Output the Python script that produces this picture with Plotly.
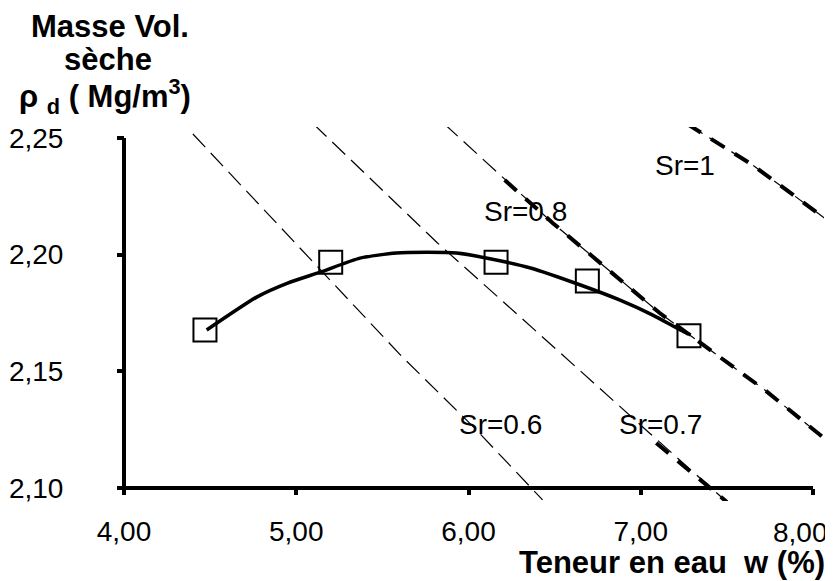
import plotly.graph_objects as go

# ---- data ----
w_obs = [4.47, 5.20, 6.16, 6.69, 7.28]
rho_obs = [2.1677, 2.1968, 2.1968, 2.1887, 2.1653]

w_fit = [4.48, 4.77, 4.95, 5.14, 5.37, 5.58, 5.76, 5.93, 6.11, 6.36, 6.65, 6.88, 7.07, 7.23, 7.29]
rho_fit = [2.1677, 2.1818, 2.1878, 2.1925, 2.1985, 2.2007, 2.2010, 2.2007, 2.1985, 2.1943,
           2.1870, 2.1805, 2.1741, 2.1677, 2.1656]

# saturation lines (thin dashed, full length)
w_sr06 = [4.40, 5.06, 5.61, 6.03, 6.43]
rho_sr06 = [2.2517, 2.1998, 2.1566, 2.1261, 2.0949]
w_sr07 = [5.10, 5.82, 6.32, 6.61, 7.05, 7.50]
rho_sr07 = [2.2560, 2.2050, 2.1720, 2.1527, 2.1236, 2.0940]
w_sr08 = [5.86, 6.49, 7.11, 7.72, 8.07]
rho_sr08 = [2.2560, 2.2135, 2.1750, 2.1420, 2.1210]
w_sr10 = [7.27, 7.65, 8.07]
rho_sr10 = [2.2560, 2.2384, 2.2155]

# thick dashed parts
w_sr07_thick = [7.09, 7.50]
rho_sr07_thick = [2.1193, 2.0940]
w_sr08_thick = [6.21, 6.49, 7.11, 7.72, 8.07]
rho_sr08_thick = [2.2320, 2.2135, 2.1750, 2.1420, 2.1210]
w_sr10_thick = [7.27, 7.65, 8.07]
rho_sr10_thick = [2.2560, 2.2384, 2.2155]

sr_labels = ["Sr=0.6", "Sr=0.7", "Sr=0.8", "Sr=1"]
sr_label_w = [6.183, 7.112, 6.328, 7.257]
sr_label_rho = [2.1274, 2.1274, 2.2183, 2.2384]

x_ticks = [4, 5, 6, 7, 8]
x_ticktext = ["4,00", "5,00", "6,00", "7,00", ""]
last_x_label = "8,00"
y_ticks = [2.10, 2.15, 2.20, 2.25]

# ---- layout geometry (page body has an 8px margin) ----
OFF = 8
W, H = 833 - OFF, 581 - OFF
L, R, T, B = 102, 9, 119, 80
X0, X1 = 3.91872, 8.06386
Y0, Y1 = 2.09443, 2.25471
PW, PH = W - L - R, H - T - B


def px(xpage):
    return (xpage - OFF - L) / PW


def py(ypage):
    return (H - B - (ypage - OFF)) / PH


FONT = "Liberation Sans, Arial, sans-serif"

fig = go.Figure()

thin = dict(color="black", width=1.2, dash="18px,8px")
thick = dict(color="black", width=4, dash="16px,12px")

for wx, ry in [(w_sr06, rho_sr06), (w_sr07, rho_sr07), (w_sr08, rho_sr08), (w_sr10, rho_sr10)]:
    fig.add_trace(go.Scatter(x=wx, y=ry, mode="lines", line=thin, hoverinfo="skip"))
for wx, ry in [(w_sr07_thick, rho_sr07_thick), (w_sr08_thick, rho_sr08_thick), (w_sr10_thick, rho_sr10_thick)]:
    fig.add_trace(go.Scatter(x=wx, y=ry, mode="lines", line=thick, hoverinfo="skip"))

fig.add_trace(go.Scatter(x=w_fit, y=rho_fit, mode="lines",
                         line=dict(color="black", width=3.5, shape="spline", smoothing=0.6)))
fig.add_trace(go.Scatter(x=w_obs, y=rho_obs, mode="markers",
                         marker=dict(symbol="square-open", size=23, color="black",
                                     line=dict(color="black", width=2))))

for t, xx, yy in zip(sr_labels, sr_label_w, sr_label_rho):
    fig.add_annotation(x=xx, y=yy, xref="x", yref="y", text=t, showarrow=False,
                       font=dict(family=FONT, size=28, color="black"),
                       xanchor="center", yanchor="middle")

# last x tick label kept inside the page, as in the reference
fig.add_annotation(x=px(800), y=py(532), xref="paper", yref="paper", text=last_x_label,
                   showarrow=False, font=dict(family=FONT, size=28, color="black"),
                   xanchor="center", yanchor="middle")

# title annotations
tfont = dict(family=FONT, size=31, color="black")
fig.add_annotation(x=px(110), y=py(26), xref="paper", yref="paper", text="<b>Masse Vol.</b>",
                   showarrow=False, font=tfont, xanchor="center", yanchor="middle")
fig.add_annotation(x=px(108), y=py(60), xref="paper", yref="paper", text="<b>sèche</b>",
                   showarrow=False, font=tfont, xanchor="center", yanchor="middle")
fig.add_annotation(x=px(105), y=py(97), xref="paper", yref="paper",
                   text="<b>ρ <sub>d</sub> ( Mg/m<sup>3</sup>)</b>",
                   showarrow=False, font=tfont, xanchor="center", yanchor="middle")
fig.add_annotation(x=px(827), y=py(562), xref="paper", yref="paper",
                   text="<b>Teneur en eau\u00a0\u00a0w (%)</b>",
                   showarrow=False, font=dict(family=FONT, size=31, color="black"),
                   xanchor="right", yanchor="middle")

# axis lines as shapes in data coordinates
fig.add_shape(type="line", xref="x", yref="y", x0=4, x1=4, y0=2.10, y1=2.25,
              line=dict(color="black", width=4))
fig.add_shape(type="line", xref="x", yref="y", x0=4, x1=8, y0=2.10, y1=2.10,
              line=dict(color="black", width=4))

fig.update_layout(
    width=W, height=H,
    margin=dict(l=L, r=R, t=T, b=B, autoexpand=False),
    paper_bgcolor="white", plot_bgcolor="white",
    showlegend=False,
    separators=",.",
    font=dict(family=FONT, size=28, color="black"),
    xaxis=dict(range=[X0, X1], showgrid=False, zeroline=False, showline=False,
               tickvals=x_ticks, ticktext=x_ticktext, ticks="outside", ticklen=6,
               tickwidth=3.5, tickcolor="black", anchor="free", automargin=False,
               position=(2.10 - Y0) / (Y1 - Y0), ticklabelstandoff=12,
               tickfont=dict(family=FONT, size=28, color="black")),
    yaxis=dict(range=[Y0, Y1], showgrid=False, zeroline=False, showline=False,
               tickvals=y_ticks, tickformat=".2f", ticks="outside", ticklen=7,
               tickwidth=3.5, tickcolor="black", anchor="free", automargin=False,
               position=(124 - OFF - L) / PW, ticklabelstandoff=48,
               tickfont=dict(family=FONT, size=28, color="black")),
)

fig.write_html("out.html")
